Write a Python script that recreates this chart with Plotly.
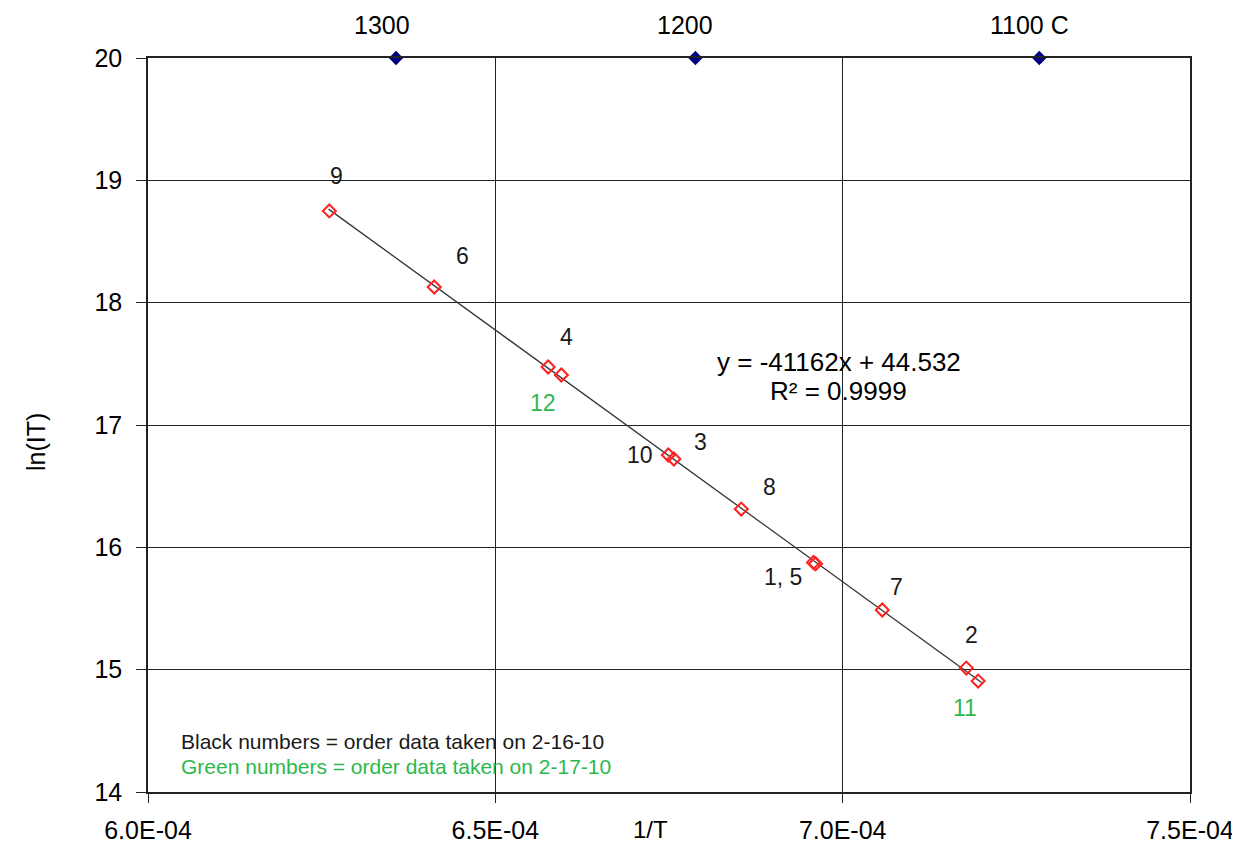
import plotly.graph_objects as go

# ---- data ----
point_labels = ["1", "2", "3", "4", "5", "6", "7", "8", "9", "10", "11", "12"]
inv_T = [6.958e-4, 7.178e-4, 6.757e-4, 6.595e-4, 6.961e-4, 6.412e-4,
         7.057e-4, 6.854e-4, 6.261e-4, 6.749e-4, 7.195e-4, 6.576e-4]
ln_IT = [15.876, 15.013, 16.722, 17.409, 15.866, 18.128,
         15.488, 16.313, 18.750, 16.755, 14.907, 17.474]

# trendline (as printed on the chart)
slope = -41162
intercept = 44.532
r2_text = "R² = 0.9999"
trend_x = [6.26e-4, 7.20e-4]

# temperature markers along the top
temp_labels = ["1300", "1200", "1100 C"]
temp_inv = [6.357e-4, 6.788e-4, 7.283e-4]
temp_y = [20, 20, 20]

# number labels near points
num_text = ["9", "6", "4", "12", "10", "3", "8", "1, 5", "7", "2", "11"]
num_x = [6.2709e-4, 6.4524e-4, 6.6023e-4, 6.5692e-4, 6.7089e-4, 6.7954e-4,
         6.8948e-4, 6.9135e-4, 7.0778e-4, 7.1859e-4, 7.1758e-4]
num_y = [19.035, 18.381, 17.719, 17.180, 16.755, 16.861,
         16.493, 15.757, 15.676, 15.283, 14.687]
num_green = [False, False, False, True, False, False,
             False, False, False, False, True]

x_tickvals = [6.0e-4, 6.5e-4, 7.0e-4, 7.5e-4]
x_ticktext = ["6.0E-04", "6.5E-04", "7.0E-04", "7.5E-04"]
y_tickvals = [14, 15, 16, 17, 18, 19, 20]

FONT = "Liberation Sans, Arial, sans-serif"
GREEN = "#2db84d"

fig = go.Figure()

trend_y = [slope * v + intercept for v in trend_x]
fig.add_trace(go.Scatter(
    x=trend_x, y=trend_y, mode="lines",
    line=dict(color="#333333", width=1.3), hoverinfo="skip", showlegend=False))

fig.add_trace(go.Scatter(
    x=inv_T, y=ln_IT, mode="markers", text=point_labels,
    marker=dict(symbol="diamond-open", size=10, color="#ff2020",
                line=dict(color="#ff2020", width=2)),
    showlegend=False))

fig.add_trace(go.Scatter(
    x=temp_inv, y=temp_y, mode="markers",
    marker=dict(symbol="diamond", size=11, color="#000080"),
    cliponaxis=False, showlegend=False))

temp_xshift = [-14, -10, -10]
for t, xv, sh in zip(temp_labels, temp_inv, temp_xshift):
    fig.add_annotation(x=xv, y=20, text=t, showarrow=False, xshift=sh, yshift=33,
                       font=dict(family=FONT, size=25, color="black"))

for t, xv, yv, g in zip(num_text, num_x, num_y, num_green):
    fig.add_annotation(x=xv, y=yv, text=t, showarrow=False,
                       font=dict(family=FONT, size=23, color=GREEN if g else "#1a1a1a"))

eq_text = f"y = {slope}x + {intercept}"
fig.add_annotation(x=6.994e-4, y=17.515, text=eq_text, showarrow=False,
                   font=dict(family=FONT, size=26, color="black"))
fig.add_annotation(x=6.994e-4, y=17.278, text=r2_text, showarrow=False,
                   font=dict(family=FONT, size=26, color="black"))

fig.add_annotation(x=6.0447e-4, y=14.409, text="Black numbers = order data taken on 2-16-10",
                   showarrow=False, xanchor="left",
                   font=dict(family=FONT, size=21, color="#1a1a1a"))
fig.add_annotation(x=6.0447e-4, y=14.212, text="Green numbers = order data taken on 2-17-10",
                   showarrow=False, xanchor="left",
                   font=dict(family=FONT, size=21, color=GREEN))

# axis titles
fig.add_annotation(xref="paper", yref="paper", x=0.4827, y=-0.0725, yanchor="bottom",
                   text="1/T", showarrow=False,
                   font=dict(family=FONT, size=24, color="black"))
fig.add_annotation(xref="paper", yref="paper", x=-0.1228, y=0.4768, textangle=-90,
                   text="ln(IT)", showarrow=False,
                   font=dict(family=FONT, size=25, color="black"))

fig.update_xaxes(range=[6.0e-4, 7.5e-4], tickvals=x_tickvals, ticktext=x_ticktext,
                 showgrid=True, gridcolor="#222222", gridwidth=1.2,
                 showline=True, linecolor="#222222", linewidth=1.6, mirror=True,
                 ticks="outside", ticklen=9, tickcolor="#222222",
                 ticklabelstandoff=6, zeroline=False,
                 tickfont=dict(family=FONT, size=25, color="black"))
fig.update_yaxes(range=[14, 20], tickvals=y_tickvals,
                 showgrid=True, gridcolor="#222222", gridwidth=1.2,
                 showline=True, linecolor="#222222", linewidth=1.6, mirror=True,
                 ticks="outside", ticklen=10, tickcolor="#222222",
                 ticklabelstandoff=9, zeroline=False,
                 tickfont=dict(family=FONT, size=25, color="black"))

fig.update_layout(width=1232, height=840,
                  margin=dict(l=140, r=50, t=50, b=56, autoexpand=False),
                  paper_bgcolor="white", plot_bgcolor="white",
                  showlegend=False)

fig.write_html("out.html")
